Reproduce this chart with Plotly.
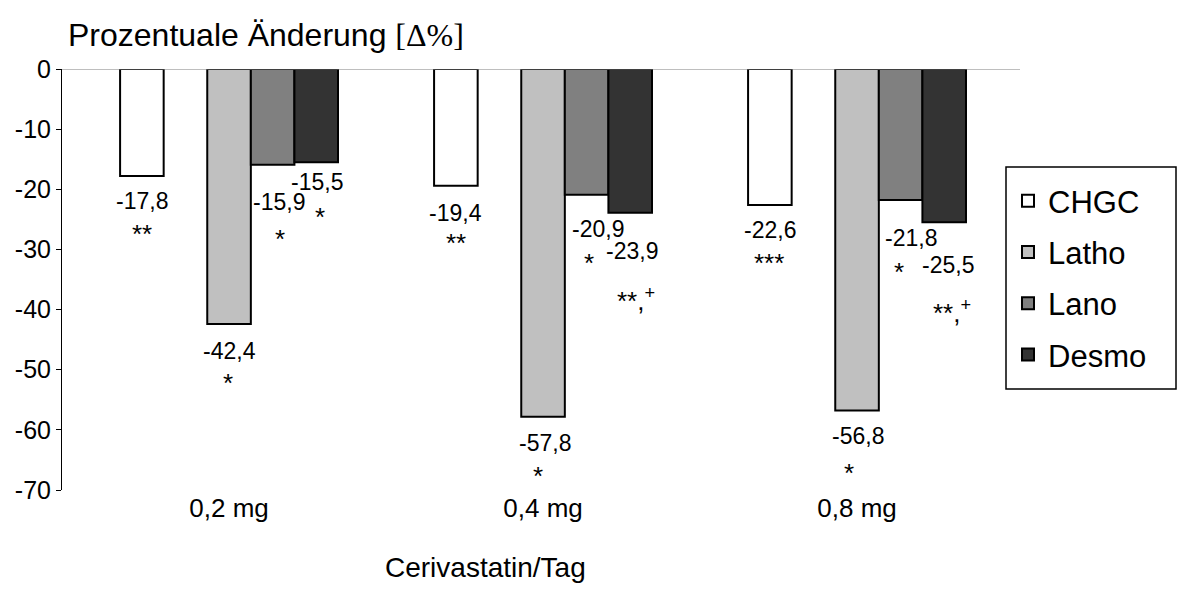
import plotly.graph_objects as go

# Dose groups and percentage change per lipid marker
doses = ["0,2 mg", "0,4 mg", "0,8 mg"]
chgc = [-17.8, -19.4, -22.6]
latho = [-42.4, -57.8, -56.8]
lano = [-15.9, -20.9, -21.8]
desmo = [-15.5, -23.9, -25.5]

# Significance markers printed under each value
sig_chgc = ["**", "**", "***"]
sig_latho = ["*", "*", "*"]
sig_lano = ["*", "*", "*"]
sig_desmo = ["*", "**,<sup>+</sup>", "**,<sup>+</sup>"]

y_ticks = [0, -10, -20, -30, -40, -50, -60, -70]
y_tick_text = ["0", "-10", "-20", "-30", "-40", "-50", "-60", "-70"]

FONT = "Liberation Sans, Arial, sans-serif"
SERIF = "Liberation Serif, Times New Roman, serif"

series = [
    ("CHGC", chgc, "#ffffff", sig_chgc),
    ("Latho", latho, "#c0c0c0", sig_latho),
    ("Lano", lano, "#808080", sig_lano),
    ("Desmo", desmo, "#333333", sig_desmo),
]

# bar slot of each series within a group (slot 1 stays empty)
slots = [0, 2, 3, 4]
n_slots = 5
bargap = 0.306
cat_px = 314.0  # pixel width of one category

# label offsets (px): value label (dx, dy), marker (dx, dy), relative to bar end
value_off = [
    [(0, 25), (0, 27), (0, 25)],
    [(0, 27), (2, 26), (1, 25)],
    [(6, 37), (11, 34), (10, 38)],
    [(1, 20), (2, 38), (4, 43)],
]
mark_off = [
    [(0, 54), (0, 53), (-1, 54)],
    [(-1, 55), (-5, 55), (-8, 58)],
    [(7, 70), (2, 64), (-2, 68)],
    [(4, 51), (6, 83), (8, 85)],
]

fig = go.Figure()
for k, (name, vals, color, _) in enumerate(series):
    if k == 1:
        # empty slot between CHGC and Latho
        fig.add_trace(go.Bar(x=doses, y=[None] * 3, showlegend=False,
                             hoverinfo="skip", name="gap"))
    fig.add_trace(go.Bar(
        x=doses, y=vals, name=name, legendgroup=name,
        marker=dict(color=color, line=dict(color="#000000", width=2)),
    ))

slot_w = cat_px * (1 - bargap) / n_slots
annotations = []
for k, (name, vals, color, sigs) in enumerate(series):
    dx0 = (slots[k] - (n_slots - 1) / 2) * slot_w
    for i, v in enumerate(vals):
        label = f"{v:.1f}".replace(".", ",")
        vx, vy = value_off[k][i]
        mx, my = mark_off[k][i]
        annotations.append(dict(
            x=doses[i], y=v, xref="x", yref="y", text=label, showarrow=False,
            xshift=dx0 + vx, yshift=-vy, xanchor="center", yanchor="middle",
            font=dict(family=FONT, size=23, color="#000000"),
        ))
        annotations.append(dict(
            x=doses[i], y=v, xref="x", yref="y", text=sigs[i], showarrow=False,
            xshift=dx0 + mx, yshift=-(my + 4), xanchor="center", yanchor="middle",
            font=dict(family=FONT, size=26, color="#000000"),
        ))

annotations.append(dict(
    x=485, y=567, xref="paper", yref="paper", text="Cerivastatin/Tag",
    showarrow=False, xanchor="center", yanchor="middle",
    font=dict(family=FONT, size=28, color="#000000"),
))

W, H = 1188, 610
ml, mr, mt, mb = 62, 168, 69, 120
pw, ph = W - ml - mr, H - mt - mb

# convert pixel coordinates of free-standing texts to paper coordinates
for a in annotations:
    if a["xref"] == "paper":
        a["x"] = (a["x"] - ml) / pw
        a["y"] = (H - mb - a["y"]) / ph

fig.update_layout(
    width=W, height=H,
    margin=dict(l=ml, r=mr, t=mt, b=mb),
    paper_bgcolor="#ffffff", plot_bgcolor="#ffffff",
    barmode="group", bargap=bargap, bargroupgap=0,
    font=dict(family=FONT, color="#000000"),
    title=dict(
        text=f'Prozentuale Änderung <span style="font-family:{SERIF}">[Δ%]</span>',
        x=68 / W, xanchor="left", y=1 - 35 / H, yanchor="middle",
        font=dict(family=FONT, size=32, color="#000000"),
    ),
    xaxis=dict(
        type="category", range=[-0.532, 2.519], showline=False, showgrid=False,
        ticks="", tickfont=dict(family=FONT, size=26, color="#000000"),
        fixedrange=True,
    ),
    yaxis=dict(
        range=[-70, 0], tickvals=y_ticks, ticktext=y_tick_text,
        showgrid=False, zeroline=False,
        showline=True, linecolor="#000000", linewidth=1,
        ticks="outside", ticklen=5, tickcolor="#000000",
        tickfont=dict(family=FONT, size=25, color="#000000"),
    ),
    showlegend=True,
    legend=dict(
        x=(1008 - ml) / pw, y=(H - mb - 174) / ph, xanchor="left", yanchor="top",
        bgcolor="rgba(0,0,0,0)", borderwidth=0,
        font=dict(family=FONT, size=31, color="#000000"),
        traceorder="grouped", tracegroupgap=8, itemwidth=30,
    ),
    annotations=annotations,
    shapes=[
        dict(type="line", xref="paper", yref="y", x0=0, x1=1, y0=0, y1=0,
             line=dict(color="#7f7f7f", width=1)),
        dict(type="rect", xref="paper", yref="paper",
             x0=(1006 - ml) / pw, x1=(1176 - ml) / pw,
             y0=(H - mb - 389) / ph, y1=(H - mb - 167) / ph,
             line=dict(color="#000000", width=1.5), fillcolor="rgba(0,0,0,0)"),
    ],
)

fig.write_html("out.html")
